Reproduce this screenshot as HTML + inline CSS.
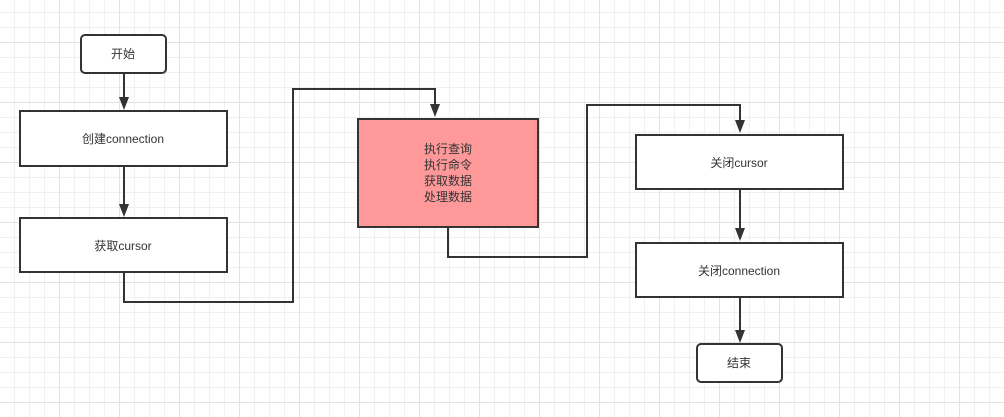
<!DOCTYPE html>
<html><head><meta charset="utf-8"><style>
html,body{margin:0;padding:0;}
body{width:1004px;height:417px;overflow:hidden;background:#fff;
background-image:
linear-gradient(to right,#e2e2e2 1px,transparent 1px),
linear-gradient(to bottom,#e2e2e2 1px,transparent 1px),
linear-gradient(to right,#f0f0f0 1px,transparent 1px),
linear-gradient(to bottom,#f0f0f0 1px,transparent 1px);
background-size:60px 60px,60px 60px,15px 15px,15px 15px;
background-position:59px 42px,59px 42px,14px 12px,14px 12px;}
svg{position:absolute;left:0;top:0}
text{font-family:"Liberation Sans","Noto Sans CJK SC",sans-serif;font-size:12px;fill:#333;text-anchor:middle;}
</style></head><body>
<svg width="1004" height="417" viewBox="0 0 1004 417">
<defs><marker id="a" markerWidth="10" markerHeight="12" refX="5" refY="12" orient="auto-start-reverse" markerUnits="userSpaceOnUse" viewBox="0 0 10 12"><path d="M0,0 L10,0 L5,12 Z" fill="#333" transform="rotate(0)"/></marker></defs>
<g stroke="#333" stroke-width="2" fill="none">
<path d="M124 73 V99"/><path d="M119 97 L129 97 L124 110 Z" fill="#333" stroke="none"/>
<path d="M124 166 V205"/><path d="M119 204 L129 204 L124 217 Z" fill="#333" stroke="none"/>
<path d="M124 272 V302 H293 V89 H435 V106"/><path d="M430 104 L440 104 L435 117 Z" fill="#333" stroke="none"/>
<path d="M448 227 V257 H587 V105 H740 V122"/><path d="M735 120 L745 120 L740 133 Z" fill="#333" stroke="none"/>
<path d="M740 189 V230"/><path d="M735 228 L745 228 L740 241 Z" fill="#333" stroke="none"/>
<path d="M740 297 V332"/><path d="M735 330 L745 330 L740 343 Z" fill="#333" stroke="none"/>
<rect x="81" y="35" width="85" height="38" rx="4" fill="#fff"/>
<rect x="20" y="111" width="207" height="55" fill="#fff"/>
<rect x="20" y="218" width="207" height="54" fill="#fff"/>
<rect x="358" y="119" width="180" height="108" fill="#ff9999"/>
<rect x="636" y="135" width="207" height="54" fill="#fff"/>
<rect x="636" y="243" width="207" height="54" fill="#fff"/>
<rect x="697" y="344" width="85" height="38" rx="4" fill="#fff"/>
</g>
<text x="123" y="58">开始</text>
<text x="123" y="143">创建connection</text>
<text x="123" y="250">获取cursor</text>
<text x="448" y="153">执行查询</text>
<text x="448" y="169">执行命令</text>
<text x="448" y="185">获取数据</text>
<text x="448" y="201">处理数据</text>
<text x="739" y="167">关闭cursor</text>
<text x="739" y="275">关闭connection</text>
<text x="739" y="367">结束</text>
</svg>
</body></html>
